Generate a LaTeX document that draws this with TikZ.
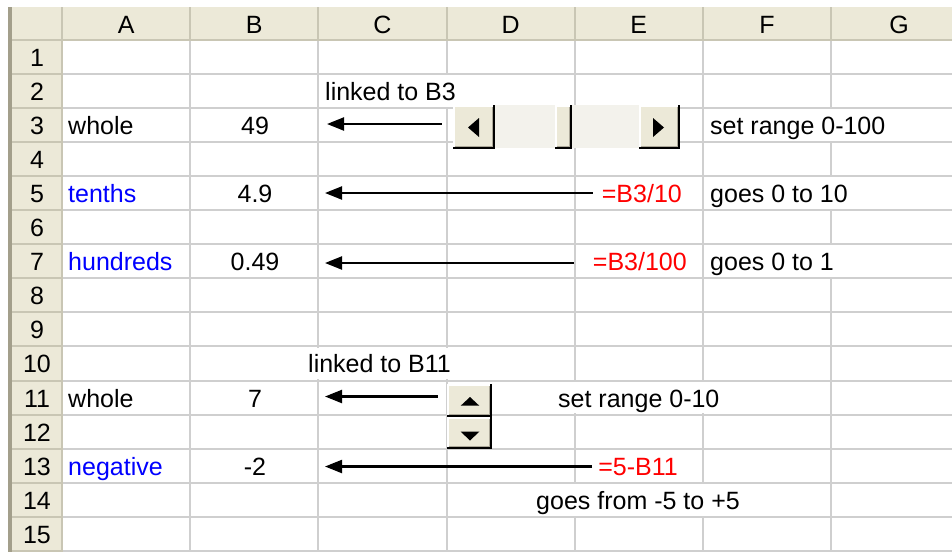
\documentclass[tikz,border=0pt]{standalone}
\usepackage{fontspec}
\setmainfont{Liberation Sans}
\usetikzlibrary{arrows.meta}
\definecolor{hdr}{HTML}{ECE9D8}
\definecolor{hdrline}{HTML}{C9C6B4}
\definecolor{gridc}{HTML}{CFCFCF}
\definecolor{edgec}{HTML}{A39F8B}
\definecolor{trackc}{HTML}{F3F2EC}
\definecolor{xred}{HTML}{FF0000}
\definecolor{xblue}{HTML}{0000FF}
\definecolor{btnshade}{HTML}{ACA899}
\newcommand\xpbutton[4]{%
  \fill[hdr] (#1,#2) rectangle (#3,#4);
  \draw[white, line width=1.5pt] (#1+0.75,#4-1.5) -- (#1+0.75,#2+0.75) -- (#3-1.5,#2+0.75);
  \draw[btnshade, line width=1pt] (#1+1.5,#4-2.5) -- (#3-2.5,#4-2.5) -- (#3-2.5,#2+1.5);
  \draw[black, line width=2pt] (#1,#4-1) -- (#3-1,#4-1) -- (#3-1,#2);
}
\newcommand\hidev[2]{%
  \fill[white] ({62+128.17*#1-1.3},{40+34.05*(#2-1)+1.1}) rectangle ({62+128.17*#1+1.3},{40+34.05*#2-1.1});
}
\begin{document}
\begin{tikzpicture}[x=1pt,y=-1pt,
  every node/.style={inner sep=0pt, font=\fontsize{25}{30}\selectfont},
  txt/.style={anchor=base west, text=black},
  num/.style={anchor=base, text=black},
  lbl/.style={anchor=base west, text=xblue},
  formula/.style={anchor=base east, text=xred},
  hdrtxt/.style={anchor=base, text=black},
  arr/.style={line width=2.2pt, -{Triangle[length=17pt,width=13pt]}},
  gridline/.style={gridc, line width=2pt},
  hline/.style={hdrline, line width=2pt}
]
\useasboundingbox (0,0) rectangle (952,552);
\fill[white] (0,0) rectangle (952,552);
% headers
\fill[hdr] (12,7) rectangle (952,40);
\fill[hdr] (12,40) rectangle (62,552);
% cell grid
\foreach \r in {1,...,15} \draw[gridline] (62,{40+34.05*\r}) -- (952,{40+34.05*\r});
\foreach \i in {1,...,6} \draw[gridline] ({62+128.17*\i},40) -- ({62+128.17*\i},552);
% header separators
\foreach \i in {1,...,6} \draw[hline] ({62+128.17*\i},7) -- ({62+128.17*\i},40);
\foreach \r in {1,...,15} \draw[hline] (12,{40+34.05*\r}) -- (62,{40+34.05*\r});
\draw[hline] (12,40) -- (952,40);
\draw[hline] (62,7) -- (62,552);
\fill[edgec] (8,7) rectangle (12,552);
% hide borders under overflowing text
\hidev{3}{2}
\hidev{6}{3}\hidev{6}{5}\hidev{6}{7}
\hidev{2}{10}\hidev{3}{10}
\hidev{4}{11}\hidev{5}{11}
\hidev{4}{14}\hidev{5}{14}
% column headers
\node[hdrtxt] (hA) at (126.1,33) {A};
\node[hdrtxt] (hB) at (254.3,33) {B};
\node[hdrtxt] (hC) at (382.4,33) {C};
\node[hdrtxt] (hD) at (510.6,33) {D};
\node[hdrtxt] (hE) at (638.8,33) {E};
\node[hdrtxt] (hF) at (766.9,33) {F};
\node[hdrtxt] (hG) at (899,33) {G};
% row numbers
\foreach \r in {1,...,15} \node[hdrtxt] (n\r) at (37,{32.45+34.05*\r}) {\r};
% cells
\node[txt] (c2) at (325,100.55) {linked to B3};
\node[txt] (a3) at (68,134.6) {whole};
\node[num] (b3) at (255,134.6) {49};
\node[txt] (f3) at (710,134.6) {set range 0-100};
\node[lbl] (a5) at (68,202.7) {tenths};
\node[num] (b5) at (255,202.7) {4.9};
\node[formula] (e5) at (682,202.7) {=B3/10};
\node[txt] (f5) at (710,202.7) {goes 0 to 10};
\node[lbl] (a7) at (68,270.8) {hundreds};
\node[num] (b7) at (255,270.8) {0.49};
\node[formula] (e7) at (687,270.8) {=B3/100};
\node[txt] (f7) at (710,270.8) {goes 0 to 1};
\node[txt] (c10) at (308,372.95) {linked to B11};
\node[txt] (a11) at (68,407) {whole};
\node[num] (b11) at (255,407) {7};
\node[txt] (e11) at (558,407) {set range 0-10};
\node[lbl] (a13) at (68,475.1) {negative};
\node[num] (b13) at (255,475.1) {-2};
\node[formula] (e13) at (678,475.1) {=5-B11};
\node[txt] (e14) at (536,509.15) {goes from -5 to +5};
% scroll bar
\node[minimum width=227pt, minimum height=44pt] (sb) at (566.5,127) {};
\fill[trackc] (495,105) rectangle (639,148);
\xpbutton{453}{105}{495}{149}
\xpbutton{555}{105}{572}{149}
\xpbutton{639}{105}{680}{149}
\fill[black] (468,127.5) -- (479,118) -- (479,137) -- cycle;
\fill[black] (664,127.5) -- (653,118) -- (653,137) -- cycle;
% spin button
\node[minimum width=45pt, minimum height=65pt] (spin) at (469.5,416.5) {};
\xpbutton{447}{384}{492}{417}
\xpbutton{447}{417}{492}{449}
\fill[black] (470,397) -- (479.3,405.7) -- (460.7,405.7) -- cycle;
\fill[black] (460.7,431.7) -- (479.3,431.7) -- (470,440.5) -- cycle;
% arrows
\coordinate (t3) at (327,124);
\coordinate (t5) at (325,193);
\coordinate (t7) at (325,263);
\coordinate (t11) at (325,396.5);
\coordinate (t13) at (325,466.5);
\draw[arr, shorten <=11pt] (sb.west |- t3) -- (t3);
\draw[arr, shorten <=9pt] (e5.west |- t5) -- (t5);
\draw[arr, shorten <=19pt] (e7.west |- t7) -- (t7);
\draw[arr, shorten <=9pt] (spin.west |- t11) -- (t11);
\draw[arr, shorten <=6pt] (e13.west |- t13) -- (t13);
\end{tikzpicture}
\end{document}
